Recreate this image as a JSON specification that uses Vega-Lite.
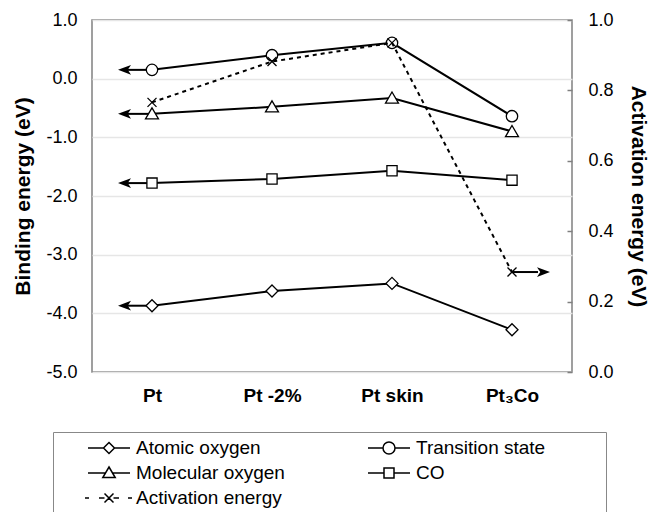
{
  "$schema": "https://vega.github.io/schema/vega-lite/v6.json",
  "width": 480,
  "height": 352,
  "autosize": {"type": "none"},
  "padding": {"left": 92, "top": 20, "right": 79, "bottom": 140},
  "background": "white",
  "config": {
    "font": "Liberation Sans",
    "view": {"stroke": "#808080", "strokeWidth": 1.5},
    "axis": {"labelFont": "Liberation Sans", "titleFont": "Liberation Sans", "labelColor": "black", "titleColor": "black", "domain": false}
  },
  "data": {
    "values": [
      {"cat": "Pt", "series": "Atomic oxygen", "value": -3.87},
      {"cat": "Pt -2%", "series": "Atomic oxygen", "value": -3.62},
      {"cat": "Pt skin", "series": "Atomic oxygen", "value": -3.49},
      {"cat": "Pt₃Co", "series": "Atomic oxygen", "value": -4.28},
      {"cat": "Pt", "series": "Transition state", "value": 0.15},
      {"cat": "Pt -2%", "series": "Transition state", "value": 0.40},
      {"cat": "Pt skin", "series": "Transition state", "value": 0.61},
      {"cat": "Pt₃Co", "series": "Transition state", "value": -0.64},
      {"cat": "Pt", "series": "Molecular oxygen", "value": -0.60},
      {"cat": "Pt -2%", "series": "Molecular oxygen", "value": -0.48},
      {"cat": "Pt skin", "series": "Molecular oxygen", "value": -0.33},
      {"cat": "Pt₃Co", "series": "Molecular oxygen", "value": -0.90},
      {"cat": "Pt", "series": "CO", "value": -1.78},
      {"cat": "Pt -2%", "series": "CO", "value": -1.71},
      {"cat": "Pt skin", "series": "CO", "value": -1.57},
      {"cat": "Pt₃Co", "series": "CO", "value": -1.73},
      {"cat": "Pt", "series": "Activation energy", "value": 0.766},
      {"cat": "Pt -2%", "series": "Activation energy", "value": 0.882},
      {"cat": "Pt skin", "series": "Activation energy", "value": 0.935},
      {"cat": "Pt₃Co", "series": "Activation energy", "value": 0.284}
    ]
  },
  "encoding": {
    "x": {
      "field": "cat", "type": "nominal",
      "scale": {"type": "point", "padding": 0.5, "domain": ["Pt", "Pt -2%", "Pt skin", "Pt₃Co"]},
      "axis": {"title": null, "ticks": false, "labelAngle": 0, "labelFontSize": 19, "labelFontWeight": "bold", "labelPadding": 14, "grid": false}
    }
  },
  "layer": [
    {
      "transform": [{"filter": "datum.series !== 'Activation energy'"}],
      "encoding": {
        "y": {
          "field": "value", "type": "quantitative",
          "scale": {"domain": [-5, 1], "nice": false, "zero": false},
          "axis": {
            "orient": "left", "title": "Binding energy (eV)", "titleFontSize": 21, "titleFontWeight": "bold", "titlePadding": 12,
            "values": [-5, -4, -3, -2, -1, 0, 1], "labelExpr": "replace(format(datum.value, '.1f'), '\u2212', '-')",
            "labelFontSize": 18, "labelPadding": 15, "ticks": false,
            "grid": true, "gridColor": "#e6e6e6", "gridWidth": 1.5
          }
        }
      },
      "layer": [
        {
          "mark": {"type": "line", "color": "black", "strokeWidth": 2},
          "encoding": {"detail": {"field": "series"}}
        },
        {
          "transform": [{"filter": "datum.cat === 'Pt'"}],
          "mark": {"type": "rule", "color": "black", "strokeWidth": 2, "x2Offset": -25},
          "encoding": {"x2": {"field": "cat"}}
        },
        {
          "transform": [{"filter": "datum.cat === 'Pt'"}],
          "mark": {"type": "point", "shape": "M-1,0L1,-0.75L0.5,0L1,0.75Z", "size": 169, "filled": true, "color": "black", "opacity": 1, "xOffset": -27.5},
          "encoding": {}
        },
        {
          "transform": [{"filter": "datum.series === 'Atomic oxygen'"}],
          "mark": {"type": "point", "shape": "M0,-1L1,0L0,1L-1,0Z", "size": 144, "filled": true, "fill": "white", "stroke": "black", "strokeWidth": 1.3, "opacity": 1},
          "encoding": {}
        },
        {
          "transform": [{"filter": "datum.series === 'Transition state'"}],
          "mark": {"type": "point", "shape": "M-0.95,0A0.95,0.95,0,1,1,0.95,0A0.95,0.95,0,1,1,-0.95,0Z", "size": 144, "filled": true, "fill": "white", "stroke": "black", "strokeWidth": 1.3, "opacity": 1},
          "encoding": {}
        },
        {
          "transform": [{"filter": "datum.series === 'Molecular oxygen'"}],
          "mark": {"type": "point", "shape": "M0,-1L1.08,0.85L-1.08,0.85Z", "size": 144, "filled": true, "fill": "white", "stroke": "black", "strokeWidth": 1.3, "opacity": 1},
          "encoding": {}
        },
        {
          "transform": [{"filter": "datum.series === 'CO'"}],
          "mark": {"type": "point", "shape": "M-0.85,-0.85H0.85V0.85H-0.85Z", "size": 144, "filled": true, "fill": "white", "stroke": "black", "strokeWidth": 1.3, "opacity": 1},
          "encoding": {}
        },
        {
          "mark": {"type": "point", "filled": true, "fill": "white", "stroke": "black", "strokeWidth": 1.5, "opacity": 1, "size": 0},
          "encoding": {
            "shape": {
              "field": "series", "type": "nominal",
              "scale": {
                "domain": ["Atomic oxygen", "Transition state", "Molecular oxygen", "CO", "Activation energy"],
                "range": [
                  "M-2.1,0L-0.55,0M0.55,0L2.1,0M0,-0.55L0.55,0L0,0.55L-0.55,0Z",
                  "M-2.1,0L-0.6,0M0.6,0L2.1,0M-0.6,0A0.6,0.6,0,1,1,0.6,0A0.6,0.6,0,1,1,-0.6,0Z",
                  "M-2.1,0L-0.35,0M0.35,0L2.1,0M0,-0.6L0.62,0.45L-0.62,0.45Z",
                  "M-2.1,0L-0.5,0M0.5,0L2.1,0M-0.5,-0.5L0.5,-0.5L0.5,0.5L-0.5,0.5Z",
                  "M-2.4,0L-2.0,0M-1.0,0L-0.45,0M0.45,0L1.0,0M1.9,0L2.3,0M-0.45,-0.45L0.45,0.45M-0.45,0.45L0.45,-0.45"
                ]
              },
              "legend": {
                "title": " ", "titleOrient": "right", "titleFontSize": 19, "titlePadding": 56,
                "orient": "none", "legendX": -39, "legendY": 412, "columns": 2, "direction": "horizontal",
                "padding": 5, "fillColor": "white", "strokeColor": "#888888",
                "symbolSize": 400, "symbolOffset": 40, "labelOffset": 16,
                "labelFont": "Liberation Sans", "labelFontSize": 19, "labelColor": "black", "labelLimit": 400,
                "columnPadding": 53, "rowPadding": 4
              }
            }
          }
        }
      ]
    },
    {
      "transform": [{"filter": "datum.series === 'Activation energy'"}],
      "encoding": {
        "y": {
          "field": "value", "type": "quantitative",
          "scale": {"domain": [0, 1], "nice": false, "zero": false},
          "axis": {
            "orient": "right", "title": "Activation energy (eV)", "titleFontSize": 21, "titleFontWeight": "bold", "titlePadding": 14,
            "values": [0, 0.2, 0.4, 0.6, 0.8, 1], "format": ".1f",
            "labelFontSize": 18, "labelPadding": 21, "ticks": true, "tickSize": -5, "tickColor": "#808080", "tickWidth": 1.5,
            "grid": false
          }
        }
      },
      "layer": [
        {
          "mark": {"type": "line", "color": "black", "strokeWidth": 2, "strokeDash": [4, 4]},
          "encoding": {}
        },
        {
          "transform": [{"filter": "datum.cat === 'Pt₃Co'"}],
          "mark": {"type": "rule", "color": "black", "strokeWidth": 2, "x2Offset": 26},
          "encoding": {"x2": {"field": "cat"}}
        },
        {
          "transform": [{"filter": "datum.cat === 'Pt₃Co'"}],
          "mark": {"type": "point", "shape": "M1,0L-1,-0.75L-0.5,0L-1,0.75Z", "size": 169, "filled": true, "color": "black", "opacity": 1, "xOffset": 31.5},
          "encoding": {}
        },
        {
          "mark": {"type": "point", "shape": "M-0.75,-0.75L0.75,0.75M-0.75,0.75L0.75,-0.75", "size": 144, "filled": true, "fill": "white", "stroke": "black", "strokeWidth": 1.3, "opacity": 1},
          "encoding": {}
        }
      ]
    }
  ],
  "resolve": {"scale": {"y": "independent"}}
}
